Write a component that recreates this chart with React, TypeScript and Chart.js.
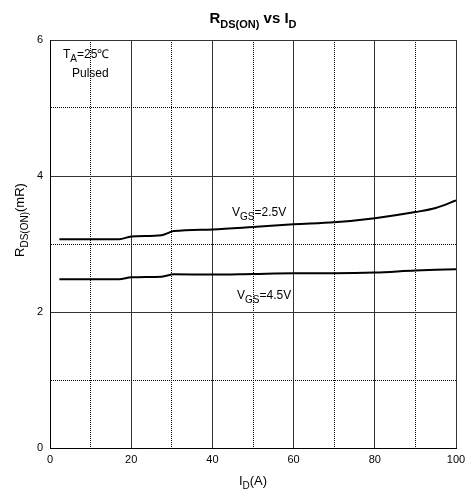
import React, { useEffect, useRef } from "react";
import { Chart, registerables } from "chart.js";

Chart.register(...registerables);

const currents = [2.3, 17, 20, 27.5, 30.5, 40, 50, 60, 70, 80, 90, 95, 100];
const rdsVgs25 = [3.07, 3.07, 3.11, 3.13, 3.19, 3.215, 3.25, 3.29, 3.32, 3.38, 3.47, 3.53, 3.64];
const rdsVgs45 = [2.48, 2.48, 2.51, 2.52, 2.555, 2.55, 2.56, 2.57, 2.57, 2.58, 2.61, 2.62, 2.63];
const xMajorStep = 20;
const yMajorStep = 2;

const FONT = "'Liberation Sans', Arial, Helvetica, sans-serif";

type Part = { t: string; sub?: boolean };

function drawParts(
  ctx: CanvasRenderingContext2D,
  parts: Part[],
  x: number,
  y: number,
  size: number,
  subSize: number,
  bold: boolean,
  align: "left" | "center"
) {
  const w = bold ? "bold " : "";
  let total = 0;
  for (const p of parts) {
    ctx.font = `${w}${p.sub ? subSize : size}px ${FONT}`;
    total += ctx.measureText(p.t).width;
  }
  let cx = align === "center" ? x - total / 2 : x;
  ctx.textAlign = "left";
  ctx.textBaseline = "alphabetic";
  for (const p of parts) {
    ctx.font = `${w}${p.sub ? subSize : size}px ${FONT}`;
    ctx.fillText(p.t, cx, p.sub ? y + Math.round(size * 0.3) : y);
    cx += ctx.measureText(p.t).width;
  }
}

const textPlugin = {
  id: "textPlugin",
  afterDraw(chart: any) {
    const ctx: CanvasRenderingContext2D = chart.ctx;
    const area = chart.chartArea;
    ctx.save();
    ctx.fillStyle = "#000";
    // title
    drawParts(ctx, [{ t: "R" }, { t: "DS(ON)", sub: true }, { t: " vs I" }, { t: "D", sub: true }], (area.left + area.right) / 2, 23, 15, 11, true, "center");
    // x axis title
    drawParts(ctx, [{ t: "I" }, { t: "D", sub: true }, { t: "(A)" }], (area.left + area.right) / 2, 485, 13, 10, false, "center");
    // y axis title
    ctx.save();
    ctx.translate(24, 220);
    ctx.rotate(-Math.PI / 2);
    drawParts(ctx, [{ t: "R" }, { t: "DS(ON)", sub: true }, { t: "(mR)" }], 0, 0, 13, 10, false, "center");
    ctx.restore();
    // annotations
    drawParts(ctx, [{ t: "T" }, { t: "A", sub: true }, { t: "=25℃" }], 63, 58, 12, 10, false, "left");
    drawParts(ctx, [{ t: "Pulsed" }], 72, 77, 12, 10, false, "left");
    drawParts(ctx, [{ t: "V" }, { t: "GS", sub: true }, { t: "=2.5V" }], 232, 216, 12, 10, false, "left");
    drawParts(ctx, [{ t: "V" }, { t: "GS", sub: true }, { t: "=4.5V" }], 237, 299, 12, 10, false, "left");
    ctx.restore();
  },
};

export default function App() {
  const ref = useRef<HTMLCanvasElement | null>(null);
  useEffect(() => {
    document.body.style.margin = "0";
    const canvas = ref.current!;
    const chart = new Chart(canvas, {
      type: "line",
      data: {
        datasets: [
          {
            label: "VGS=2.5V",
            data: currents.map((x, i) => ({ x, y: rdsVgs25[i] })),
            borderColor: "#000",
            borderWidth: 2,
            pointRadius: 0,
            cubicInterpolationMode: "monotone",
            fill: false,
          },
          {
            label: "VGS=4.5V",
            data: currents.map((x, i) => ({ x, y: rdsVgs45[i] })),
            borderColor: "#000",
            borderWidth: 2,
            pointRadius: 0,
            cubicInterpolationMode: "monotone",
            fill: false,
          },
        ],
      },
      options: {
        animation: false,
        responsive: false,
        devicePixelRatio: 1,
        layout: { padding: { left: 10, right: 12, top: 40, bottom: 0 } },
        plugins: { legend: { display: false }, tooltip: { enabled: false }, title: { display: false } },
        scales: {
          x: {
            type: "linear",
            min: 0,
            max: 100,
            afterFit: (s: any) => {
              s.height = 45;
              s.paddingLeft = 0;
              s.paddingRight = 0;
            },
            ticks: {
              stepSize: 10,
              autoSkip: false,
              maxRotation: 0,
              padding: 5,
              color: "#000",
              font: { family: FONT, size: 11 },
              callback: (v: any) => (Number(v) % xMajorStep === 0 ? String(v) : ""),
            },
            grid: {
              drawTicks: false,
              color: (c: any) => (c.tick && c.tick.value % xMajorStep === 0 ? "#333" : "#000"),
              lineWidth: 1,
            },
            border: {
              display: true,
              color: "#000",
              width: 1,
              dash: (c: any) => (c.tick && c.tick.value % xMajorStep === 0 ? [] : [1, 1]),
            } as any,
          },
          y: {
            type: "linear",
            min: 0,
            max: 6,
            afterFit: (s: any) => {
              s.width = 40;
              s.paddingTop = 0;
              s.paddingBottom = 0;
            },
            ticks: {
              stepSize: 1,
              autoSkip: false,
              padding: 7,
              color: "#000",
              font: { family: FONT, size: 11 },
              callback: (v: any) => (Number(v) % yMajorStep === 0 ? String(v) : ""),
            },
            grid: {
              drawTicks: false,
              color: (c: any) => (c.tick && c.tick.value % yMajorStep === 0 ? "#333" : "#000"),
              lineWidth: 1,
            },
            border: {
              display: true,
              color: "#000",
              width: 1,
              dash: (c: any) => (c.tick && c.tick.value % yMajorStep === 0 ? [] : [1, 1]),
            } as any,
          },
        },
      } as any,
      plugins: [textPlugin],
    });
    return () => chart.destroy();
  }, []);
  return (
    <div style={{ width: 468, height: 493, background: "#fff" }}>
      <canvas ref={ref} width={468} height={493} style={{ display: "block" }} />
    </div>
  );
}
